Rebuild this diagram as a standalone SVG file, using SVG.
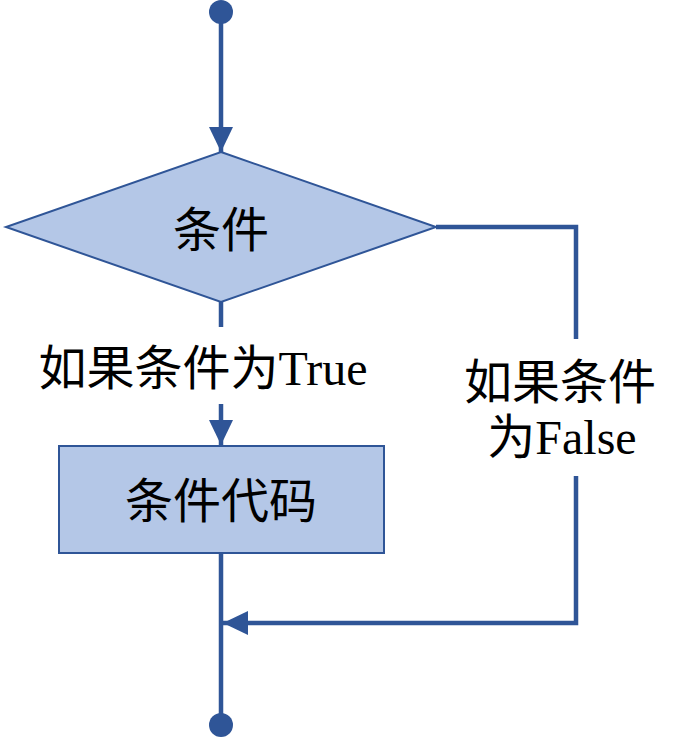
<svg xmlns="http://www.w3.org/2000/svg" width="692" height="739" viewBox="0 0 692 739">
  <style>
    .conn { fill: none; stroke: #2F5597; stroke-width: 4.5; }
    .shape { fill: #B4C7E7; stroke: #2F5597; stroke-width: 2; }
    .dot { fill: #2F5597; }
    .lbl { font-family: "Liberation Serif", "Noto Sans CJK SC", serif; font-size: 48px; fill: #000; text-anchor: middle; }
  </style>
  <defs>
    <marker id="arr" markerUnits="userSpaceOnUse" markerWidth="26" markerHeight="26" viewBox="0 0 26 26" refX="25" refY="13" orient="auto">
      <path d="M0,1 L25,13 L0,25 z" fill="#2F5597"/>
    </marker>
  </defs>
  <rect width="692" height="739" fill="#fff"/>
  <g id="connectors">
    <path class="conn" d="M221,12 V152" marker-end="url(#arr)"/>
    <path class="conn" d="M221,302 V327"/>
    <path class="conn" d="M221,404 V445" marker-end="url(#arr)"/>
    <path class="conn" d="M221,553 V725"/>
    <path class="conn" d="M436,227 H576 V339"/>
    <path class="conn" d="M576,476 V623 H223" marker-end="url(#arr)"/>
  </g>
  <g id="start">
    <circle class="dot" cx="221" cy="12" r="12"/>
  </g>
  <g id="condition">
    <polygon class="shape" points="221,152 436,227 221,302 6,227"/>
    <text class="lbl" x="221" y="247">条件</text>
  </g>
  <g id="label-true">
    <text class="lbl" x="203" y="385">如果条件为True</text>
  </g>
  <g id="code">
    <rect class="shape" x="59" y="446" width="325" height="107"/>
    <text class="lbl" x="221" y="518">条件代码</text>
  </g>
  <g id="label-false">
    <text class="lbl" x="560" y="399">如果条件</text>
    <text class="lbl" x="562" y="454">为False</text>
  </g>
  <g id="end">
    <circle class="dot" cx="221" cy="725" r="12"/>
  </g>
</svg>
